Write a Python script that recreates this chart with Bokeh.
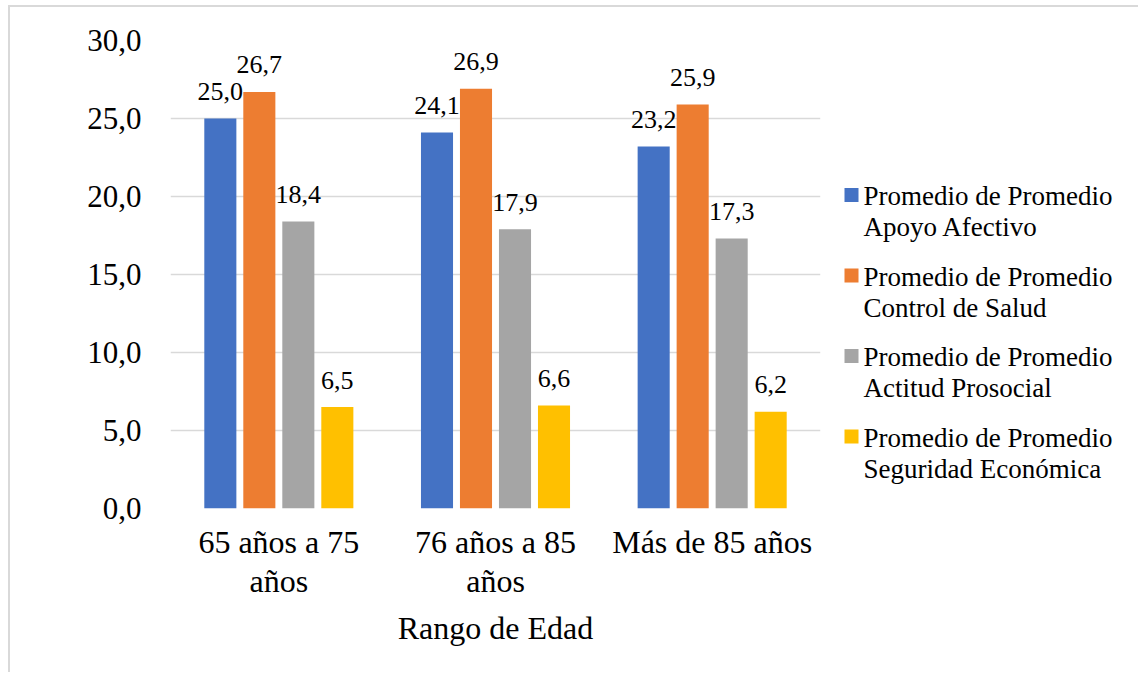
from bokeh.plotting import figure
from bokeh.models import (ColumnDataSource, FactorRange, Range1d, FixedTicker,
                          CategoricalAxis, CustomJSTickFormatter)
from bokeh.transform import dodge
from bokeh.layouts import row
from bokeh.core.properties import value
from bokeh.embed import file_html
from bokeh.resources import INLINE

# ---- data ----
categories = ["65 años a 75 años", "76 años a 85 años", "Más de 85 años"]
category_line1 = ["65 años a 75", "76 años a 85", "Más de 85 años"]
category_line2 = ["años", "años", ""]
series_names = [
    "Promedio de Promedio\nApoyo Afectivo",
    "Promedio de Promedio\nControl de Salud",
    "Promedio de Promedio\nActitud Prosocial",
    "Promedio de Promedio\nSeguridad Económica",
]
apoyo_afectivo = [25.0, 24.1, 23.2]
control_salud = [26.7, 26.9, 25.9]
actitud_prosocial = [18.4, 17.9, 17.3]
seguridad_economica = [6.5, 6.6, 6.2]
y_ticks = [0, 5, 10, 15, 20, 25, 30]
x_axis_title = "Rango de Edad"

colors = ["#4472C4", "#ED7D31", "#A5A5A5", "#FFC000"]
FONT = "Liberation Serif"

series_values = [apoyo_afectivo, control_salud, actitud_prosocial, seguridad_economica]
offsets = [-0.27, -0.09, 0.09, 0.27]

H = 665
TOP = 33
BOT = 501
p = figure(
    x_range=FactorRange(*categories, range_padding=0),
    y_range=Range1d(0, 30),
    width=830, height=H,
    output_backend="svg", toolbar_location=None,
    min_border_left=160, min_border_right=20, min_border_top=TOP, min_border_bottom=H - BOT,
)
p.outline_line_color = None
p.background_fill_color = "white"
p.border_fill_color = "white"

for vals, col, off in zip(series_values, colors, offsets):
    src = ColumnDataSource(dict(
        x=categories, top=vals,
        lab=[f"{v:.1f}".replace(".", ",") for v in vals],
    ))
    p.vbar(x=dodge("x", off, range=p.x_range), top="top", width=0.148, source=src,
           fill_color=col, line_color=None)
    p.text(x=dodge("x", off, range=p.x_range), y="top", text="lab", source=src,
           text_font=value(FONT), text_font_size="26px", text_color="#000000",
           text_align="center", text_baseline="alphabetic", y_offset=-27)

# y axis
p.yaxis.ticker = FixedTicker(ticks=y_ticks)
p.yaxis.major_label_overrides = {t: f"{t:.1f}".replace(".", ",") for t in y_ticks}
p.yaxis.axis_line_color = None
p.yaxis.major_tick_line_color = None
p.yaxis.minor_tick_line_color = None
p.yaxis.major_tick_out = 0
p.yaxis.major_tick_in = 0
p.yaxis.major_label_text_font = FONT
p.yaxis.major_label_text_font_size = "31px"
p.yaxis.major_label_text_color = "#000000"
p.yaxis.major_label_standoff = 29

def style_xaxis(ax):
    ax.axis_line_color = None
    ax.major_tick_line_color = None
    ax.minor_tick_line_color = None
    ax.major_tick_out = 0
    ax.major_tick_in = 0
    ax.major_label_text_font = FONT
    ax.major_label_text_font_size = "32px"
    ax.major_label_text_color = "#000000"

def label_formatter(lines):
    return CustomJSTickFormatter(args=dict(lab=dict(zip(categories, lines))),
                                 code="return lab[tick] === undefined ? tick : lab[tick];")

# first line of category labels
xa = p.xaxis[0]
style_xaxis(xa)
xa.formatter = label_formatter(category_line1)
xa.major_label_standoff = 15

# second line of category labels + axis title
xa2 = CategoricalAxis()
style_xaxis(xa2)
xa2.formatter = label_formatter(category_line2)
xa2.major_label_standoff = 0
xa2.axis_label = x_axis_title
xa2.axis_label_text_font = FONT
xa2.axis_label_text_font_size = "32px"
xa2.axis_label_text_font_style = "normal"
xa2.axis_label_text_color = "#000000"
xa2.axis_label_standoff = 8
p.add_layout(xa2, "below")

p.xgrid.grid_line_color = None
p.ygrid.grid_line_color = "#d9d9d9"
p.ygrid.grid_line_width = 1.5

# ---- legend figure (frame aligned with main figure; y in figure pixels) ----
LW = 298
lg = figure(width=LW, height=H, x_range=Range1d(0, LW), y_range=Range1d(BOT, TOP),
            output_backend="svg", toolbar_location=None,
            min_border_left=0, min_border_right=0,
            min_border_top=TOP, min_border_bottom=H - BOT)
lg.axis.visible = False
lg.grid.visible = False
lg.outline_line_color = None
lg.border_fill_color = "white"

first_y = 187.5
step = 80.5
sq_x, sq_y = [], []
t_x, t_y, t_txt = [], [], []
for i, name in enumerate(series_names):
    line1, line2 = name.split("\n")
    yc = first_y + i * step
    sq_x.append(11)
    sq_y.append(yc)
    t_x += [23, 23]
    t_y += [yc + 1, yc + 32]
    t_txt += [line1, line2]

lg.rect(x=sq_x, y=sq_y, width=14, height=14, fill_color=colors, line_color=None)
lg.text(x=t_x, y=t_y, text=t_txt, text_font=value(FONT), text_font_size="27px",
        text_color="#000000", text_align="left", text_baseline="alphabetic")

layout = row(p, lg, styles={"margin-left": "8px", "margin-top": "5px",
                            "border-left": "2px solid #d9d9d9",
                            "border-top": "2px solid #d9d9d9"})

open("out.html", "w").write(file_html(layout, INLINE))
